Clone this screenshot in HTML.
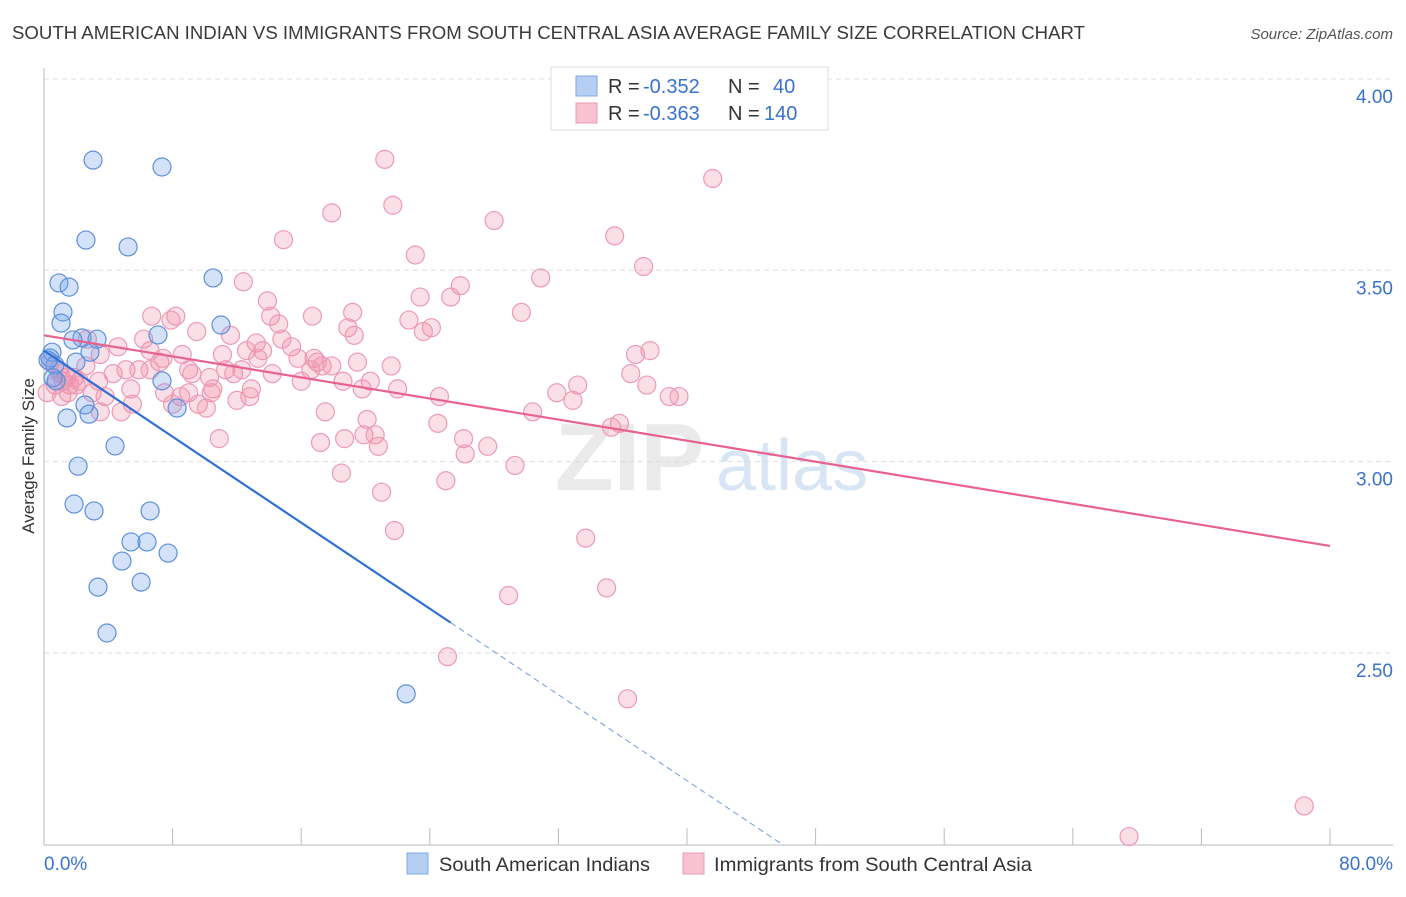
<!DOCTYPE html>
<html><head><meta charset="utf-8"><style>
body{margin:0;background:#fff;font-family:"Liberation Sans",Arial,sans-serif;}
svg text{font-family:"Liberation Sans",Arial,sans-serif;}
</style></head><body>
<svg id="chart" width="1406" height="892" xmlns="http://www.w3.org/2000/svg">
<text x="12" y="39" font-size="18" fill="#3a3a3a" textLength="1073" lengthAdjust="spacingAndGlyphs">SOUTH AMERICAN INDIAN VS IMMIGRANTS FROM SOUTH CENTRAL ASIA AVERAGE FAMILY SIZE CORRELATION CHART</text>
<text x="1393" y="39" font-size="15" fill="#555" font-style="italic" text-anchor="end">Source: ZipAtlas.com</text>
<g>
<text x="555" y="490" font-size="96" font-family="Liberation Serif" font-weight="bold" fill="#dcdcdc" fill-opacity="0.6">ZIP</text>
<text x="716" y="490" font-size="72" fill="#bcd3ee" fill-opacity="0.6">atlas</text>
</g>
<g id="grid"></g>
<g id="axes"></g>
<g id="points"></g>
<g id="trends"></g>
<text transform="translate(34,456) rotate(-90)" font-size="17" fill="#333" text-anchor="middle">Average Family Size</text>
<g>
<rect x="551" y="67" width="277" height="63" fill="#fff" stroke="#ddd"/>
<rect x="576" y="76" width="21" height="20" fill="#b5cff2" stroke="#7ea8e0"/>
<rect x="576" y="103" width="21" height="20" fill="#f7c3d3" stroke="#eb9ab4"/>
<text x="608" y="93" font-size="20" fill="#333">R = <tspan fill="#3a72d0" x="643">-0.352</tspan></text>
<text x="728" y="93" font-size="20" fill="#333">N = <tspan fill="#3a72d0" x="773">40</tspan></text>
<text x="608" y="120" font-size="20" fill="#333">R = <tspan fill="#3a72d0" x="643">-0.363</tspan></text>
<text x="728" y="120" font-size="20" fill="#333">N = <tspan fill="#3a72d0" x="764">140</tspan></text>
</g>
<g>
<rect x="407" y="853" width="21" height="21" fill="#b5cff2" stroke="#7ea8e0"/>
<text x="439" y="871" font-size="19.5" fill="#333" textLength="211" lengthAdjust="spacingAndGlyphs">South American Indians</text>
<rect x="683" y="853" width="21" height="21" fill="#f7c3d3" stroke="#eb9ab4"/>
<text x="714" y="871" font-size="19.5" fill="#333" textLength="318" lengthAdjust="spacingAndGlyphs">Immigrants from South Central Asia</text>
</g>
</svg>
<script>
const blueX=[3.05,7.34,2.61,5.23,0.93,1.56,10.52,1.18,1.06,11.01,7.09,2.36,3.30,1.80,2.86,0.50,0.37,1.99,0.68,0.56,7.34,2.55,8.28,2.80,1.43,4.42,2.12,1.87,3.11,6.60,5.41,6.41,7.72,4.85,6.04,3.36,3.92,22.53,0.25,0.75];
const blueY=[3.788,3.770,3.579,3.561,3.467,3.456,3.480,3.391,3.362,3.357,3.331,3.323,3.320,3.318,3.286,3.286,3.271,3.260,3.252,3.219,3.211,3.148,3.140,3.124,3.114,3.041,2.988,2.889,2.871,2.871,2.790,2.790,2.761,2.740,2.685,2.672,2.552,2.393,3.265,3.211];
const pinkX=[21.2,21.7,17.9,28.0,41.6,14.9,35.5,23.1,37.3,30.9,12.4,25.9,25.3,23.4,13.9,19.2,29.7,16.7,8.2,6.7,7.9,14.1,14.6,22.7,24.1,23.6,18.9,19.3,9.5,11.6,6.2,2.7,13.2,14.8,4.6,15.4,12.6,13.6,8.6,6.6,15.8,36.8,37.7,3.5,7.2,7.4,11.1,13.3,16.8,17.0,17.3,17.9,2.6,21.6,19.5,11.3,11.8,9.0,16.6,10.3,36.5,4.3,5.1,5.9,6.6,9.2,14.2,12.3,16.0,20.3,18.6,19.8,10.5,10.4,12.9,22.0,33.2,37.5,0.7,1.2,1.6,2.2,3.4,1.5,3.0,5.4,9.0,7.5,8.5,12.8,31.9,24.6,32.9,38.9,39.5,9.6,12.0,10.1,8.0,5.5,3.8,17.5,30.4,3.5,4.8,1.1,20.1,35.8,35.3,24.5,19.9,20.6,17.2,18.7,10.9,26.1,27.6,20.8,26.2,29.3,18.5,25.0,21.0,21.8,33.7,28.9,35.0,25.1,36.3,67.5,78.4,0.9,1.4,1.9,0.2,2.0,0.4,1.0];
const pinkY=[3.79,3.67,3.65,3.63,3.74,3.58,3.59,3.54,3.51,3.48,3.47,3.46,3.43,3.43,3.42,3.39,3.39,3.38,3.38,3.38,3.37,3.38,3.36,3.37,3.35,3.34,3.35,3.33,3.34,3.33,3.32,3.32,3.31,3.32,3.30,3.30,3.29,3.29,3.28,3.29,3.27,3.28,3.29,3.28,3.26,3.27,3.28,3.27,3.27,3.26,3.25,3.25,3.25,3.25,3.26,3.24,3.23,3.24,3.24,3.22,3.23,3.23,3.24,3.24,3.24,3.23,3.23,3.24,3.21,3.21,3.21,3.19,3.19,3.18,3.19,3.19,3.20,3.20,3.20,3.21,3.20,3.21,3.21,3.18,3.18,3.19,3.18,3.18,3.17,3.17,3.18,3.17,3.16,3.17,3.17,3.15,3.16,3.14,3.15,3.15,3.17,3.13,3.13,3.13,3.13,3.17,3.11,3.10,3.09,3.10,3.07,3.07,3.05,3.06,3.06,3.06,3.04,3.04,3.02,2.99,2.97,2.95,2.92,2.82,2.80,2.65,2.67,2.49,2.38,2.02,2.10,3.24,3.22,3.22,3.18,3.20,3.26,3.23];
const yTicks=[2.5,3.0,3.5,4.0];
const yTickLabels=["2.50","3.00","3.50","4.00"];
const blueTrend=[3.29,-0.0281];
const pinkTrend=[3.33,-0.00688];
const sx=v=>44+v*16.075;
const sy=v=>79+(4-v)*382.6;
const NS="http://www.w3.org/2000/svg";
function mk(tag,attrs,parent){const e=document.createElementNS(NS,tag);for(const k in attrs)e.setAttribute(k,attrs[k]);parent.appendChild(e);return e;}
const grid=document.getElementById('grid'),axes=document.getElementById('axes'),pts=document.getElementById('points'),tr=document.getElementById('trends');
yTicks.forEach((t,i)=>{
 const l=mk('line',{x1:44,x2:1393,y1:sy(t),y2:sy(t),stroke:'#ddd','stroke-dasharray':'5,4'},grid);
 
 
 const tx=mk('text',{x:1393,y:sy(t)+24,'font-size':19,fill:'#3a72d0','text-anchor':'end'},axes);
 tx.textContent=yTickLabels[i];
 
 
});
const ax=mk('line',{x1:44,x2:1393,y1:845,y2:845,stroke:'#bbb'},axes);


const ay=mk('line',{x1:44,x2:44,y1:68,y2:845,stroke:'#bbb'},axes);


for(let i=0;i<=10;i++){
 const t=mk('line',{x1:sx(i*8),x2:sx(i*8),y1:828,y2:845,stroke:'#bbb'},axes);
 
 
}
const xl0=mk('text',{x:44,y:870,'font-size':19,fill:'#3a72d0'},axes);xl0.textContent='0.0%';


const xl1=mk('text',{x:1393,y:870,'font-size':19,fill:'#3a72d0','text-anchor':'end'},axes);xl1.textContent='80.0%';


pinkX.forEach((x,i)=>{
 const c=mk('circle',{cx:sx(x),cy:sy(pinkY[i]),r:9,fill:'rgba(240,140,170,0.28)',stroke:'#ec9ab5','stroke-width':1.2},pts);
 
 
});
blueX.forEach((x,i)=>{
 const c=mk('circle',{cx:sx(x),cy:sy(blueY[i]),r:9,fill:'rgba(110,160,235,0.3)',stroke:'#5d90da','stroke-width':1.2},pts);
 
 
});
const pl=mk('line',{x1:sx(0),y1:sy(pinkTrend[0]),x2:sx(80),y2:sy(pinkTrend[0]+pinkTrend[1]*80),stroke:'#e8628f','stroke-width':2.2},tr);


const bl=mk('line',{x1:sx(0),y1:sy(blueTrend[0]),x2:sx(25.3),y2:sy(blueTrend[0]+blueTrend[1]*25.3),stroke:'#2f6fd6','stroke-width':2.2},tr);


const bd=mk('line',{x1:sx(25.3),y1:sy(blueTrend[0]+blueTrend[1]*25.3),x2:sx(46),y2:sy(blueTrend[0]+blueTrend[1]*46),stroke:'#6e9be0','stroke-width':1,'stroke-dasharray':'6,4'},tr);


</script>
</body></html>
